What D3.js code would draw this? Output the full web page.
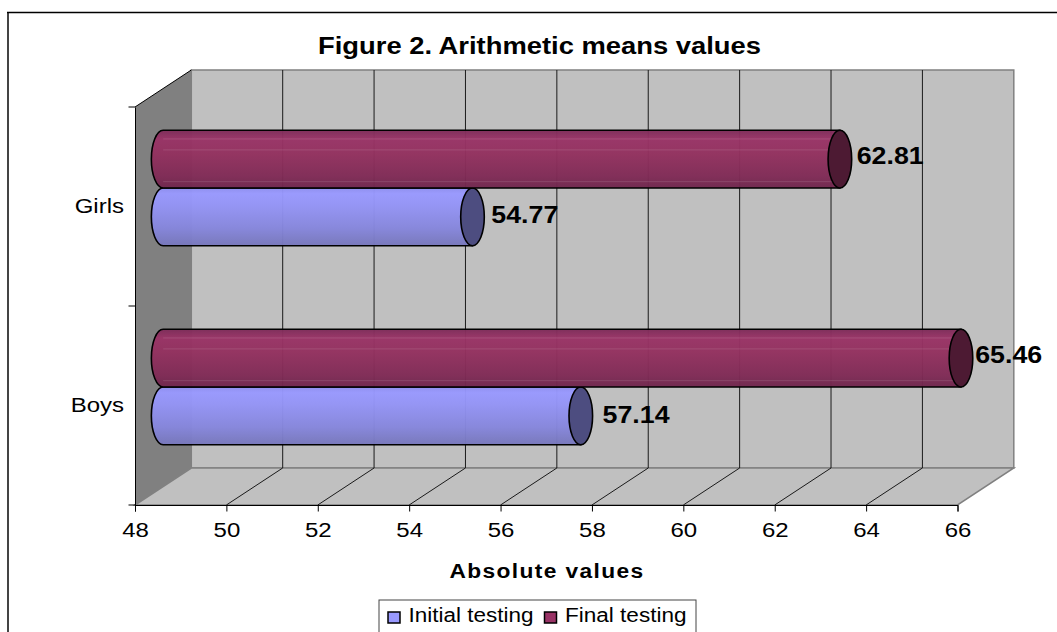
<!DOCTYPE html>
<html>
<head>
<meta charset="utf-8">
<script src="https://cdn.jsdelivr.net/npm/d3@7/dist/d3.min.js"></script>
<style>
  body { margin:0; background:#fff; }
  svg { display:block; }
  text { font-family:"Liberation Sans", Arial, sans-serif; fill:#000; }
  .axis path, .axis line { stroke:#000; }
</style>
</head>
<body>
<svg width="1057" height="632"></svg>
<script>
const categories = ['Girls', 'Boys'];
const seriesNames = ['Initial testing', 'Final testing'];
const initialValues = [54.77, 57.14];
const finalValues = [62.81, 65.46];
const xTicks = [48, 50, 52, 54, 56, 58, 60, 62, 64, 66];

const svg = d3.select('svg');

// front edge of the 3d box and how far back it goes
const plot = { left:135, right:957.5, top:107, bottom:505 };
const depth = { x:56.3, y:-37 };

const xScale = d3.scaleLinear()
    .domain([48, 66])
    .range([plot.left, plot.right]);
const yScale = d3.scaleBand()
    .domain(categories)
    .range([plot.top, plot.bottom])
    .paddingInner(0.42)
    .paddingOuter(0.21);
const seriesScale = d3.scaleBand()
    .domain([seriesNames[1], seriesNames[0]])
    .range([0, yScale.bandwidth()]);

// the text in the picture is pulled wider than the font
const stretch = (sel, k) => sel.each(function() {
    d3.select(this)
        .attr('lengthAdjust', 'spacingAndGlyphs')
        .attr('textLength', this.getComputedTextLength() * k);
});

// frame
svg.append('line').attr('x1', 8).attr('x2', 8).attr('y1', 12).attr('y2', 632)
    .attr('stroke', '#444').attr('stroke-width', 2);
svg.append('line').attr('x1', 7).attr('x2', 1057).attr('y1', 12.5).attr('y2', 12.5)
    .attr('stroke', '#000').attr('stroke-width', 1.5);

// title
svg.append('text').attr('x', 318).attr('y', 54)
    .attr('font-size', 23).attr('font-weight', 'bold')
    .attr('textLength', 443).attr('lengthAdjust', 'spacingAndGlyphs')
    .text('Figure 2. Arithmetic means values');

// gradients
const defs = svg.append('defs');
const addGradient = (id, stops) => {
    const g = defs.append('linearGradient').attr('id', id)
        .attr('x1', 0).attr('x2', 0).attr('y1', 0).attr('y2', 1);
    stops.forEach(s => g.append('stop').attr('offset', s[0]).attr('stop-color', s[1]));
};
addGradient('gradInitial', [[0, '#8f8ff0'], [0.1, '#9999ff'], [0.3, '#9494f6'], [0.7, '#8686dc'], [1, '#7777bb']]);
addGradient('gradFinal', [[0, '#7d2c59'], [0.15, '#993366'], [0.4, '#93315f'], [0.8, '#802b56'], [1, '#6f274d']]);

// back wall, side wall, floor
const box = svg.append('g');
box.append('rect')
    .attr('x', plot.left + depth.x).attr('y', plot.top + depth.y)
    .attr('width', plot.right - plot.left).attr('height', plot.bottom - plot.top)
    .attr('fill', '#c0c0c0').attr('stroke', '#808080').attr('stroke-width', 1.5);
box.append('path')
    .attr('d', d3.line()([
        [plot.left, plot.top], [plot.left + depth.x, plot.top + depth.y],
        [plot.left + depth.x, plot.bottom + depth.y], [plot.left, plot.bottom]
    ]) + 'Z')
    .attr('fill', '#808080');
box.append('path')
    .attr('d', d3.line()([
        [plot.left, plot.bottom], [plot.left + depth.x, plot.bottom + depth.y],
        [plot.right + depth.x, plot.bottom + depth.y], [plot.right, plot.bottom]
    ]) + 'Z')
    .attr('fill', '#c0c0c0').attr('stroke', '#808080').attr('stroke-width', 1.5);
box.append('line')
    .attr('x1', plot.left).attr('y1', plot.top)
    .attr('x2', plot.left + depth.x).attr('y2', plot.top + depth.y)
    .attr('stroke', '#000');

// grid lines, up the back wall and across the floor
const gridTicks = xTicks.slice(1, -1);
box.selectAll('.wallGrid').data(gridTicks).enter().append('line')
    .attr('x1', d => xScale(d) + depth.x).attr('x2', d => xScale(d) + depth.x)
    .attr('y1', plot.top + depth.y).attr('y2', plot.bottom + depth.y)
    .attr('stroke', '#1a1a1a').attr('stroke-width', 1);
box.selectAll('.floorGrid').data(gridTicks).enter().append('line')
    .attr('x1', d => xScale(d)).attr('x2', d => xScale(d) + depth.x)
    .attr('y1', plot.bottom).attr('y2', plot.bottom + depth.y)
    .attr('stroke', '#1a1a1a').attr('stroke-width', 1);

// axes
const xAxis = d3.axisBottom(xScale).tickValues(xTicks).tickSizeOuter(0).tickSize(6.5).tickPadding(11);
svg.append('g').attr('class', 'axis')
    .attr('transform', `translate(0,${plot.bottom})`)
    .call(xAxis)
    .selectAll('text')
    .attr('font-size', 20)
    .call(stretch, 1.2);

const yAxis = d3.axisLeft(yScale).tickSize(0).tickPadding(11);
svg.append('g').attr('class', 'axis')
    .attr('transform', `translate(${plot.left},0)`)
    .call(yAxis)
    .selectAll('text')
    .attr('font-size', 20)
    .call(stretch, 1.2);

// category ticks sit between the categories
const yTickPos = [plot.top, yScale.step() + plot.top, plot.bottom];
svg.selectAll('.yTick').data(yTickPos).enter().append('line')
    .attr('x1', plot.left - 6.5).attr('x2', plot.left)
    .attr('y1', d => d).attr('y2', d => d)
    .attr('stroke', '#000');

svg.append('text').attr('x', 449.5).attr('y', 578)
    .attr('font-size', 20).attr('font-weight', 'bold')
    .attr('letter-spacing', 1.2)
    .attr('textLength', 195).attr('lengthAdjust', 'spacingAndGlyphs')
    .text('Absolute values');

// bars
const rx = 11.8;
const rows = [];
categories.forEach((c, i) => {
    rows.push({ cat:c, series:seriesNames[0], value:initialValues[i], grad:'gradInitial', cap:'#4d4d80' });
    rows.push({ cat:c, series:seriesNames[1], value:finalValues[i], grad:'gradFinal', cap:'#4d1a33' });
});
// bars stand half way back in the box
const bx = v => xScale(v) + depth.x / 2;
const byTop = d => yScale(d.cat) + seriesScale(d.series) + depth.y / 2;
const ry = seriesScale.bandwidth() / 2;

const bars = svg.selectAll('.bar').data(rows).enter().append('g').attr('class', 'bar');
bars.append('path')
    .attr('d', d => {
        const x0 = bx(48), x1 = bx(d.value), y0 = byTop(d), y1 = y0 + ry * 2;
        return `M${x0},${y0}A${rx},${ry} 0 0 0 ${x0},${y1}L${x1},${y1}L${x1},${y0}Z`;
    })
    .attr('fill', d => `url(#${d.grad})`)
    .attr('fill-opacity', 0.97)
    .attr('stroke', '#000').attr('stroke-width', 1.6);
// thin light bands across the cylinders
const bandFractions = [0.15, 0.34, 0.89];
bars.filter(d => d.series === seriesNames[1]).selectAll('.band').data(d => bandFractions.map(f => ({ d, f })))
    .enter().append('line')
    .attr('x1', b => bx(48)).attr('x2', b => bx(b.d.value))
    .attr('y1', b => byTop(b.d) + b.f * ry * 2).attr('y2', b => byTop(b.d) + b.f * ry * 2)
    .attr('stroke', '#fff').attr('stroke-opacity', 0.12).attr('stroke-width', 1);
bars.append('ellipse')
    .attr('cx', d => bx(d.value))
    .attr('cy', d => byTop(d) + ry)
    .attr('rx', rx).attr('ry', ry)
    .attr('fill', d => d.cap)
    .attr('stroke', '#000').attr('stroke-width', 1.6);

// value labels, each one sits a bit differently in the picture
const labelNudge = { 'Girls|Final testing':[5, -4], 'Girls|Initial testing':[7, -2], 'Boys|Final testing':[2.4, -4], 'Boys|Initial testing':[10, -1] };
bars.append('text')
    .attr('x', d => bx(d.value) + rx + labelNudge[d.cat + '|' + d.series][0])
    .attr('y', d => byTop(d) + ry + labelNudge[d.cat + '|' + d.series][1])
    .attr('dy', '0.36em')
    .attr('font-size', 24).attr('font-weight', 'bold')
    .attr('textLength', 67).attr('lengthAdjust', 'spacingAndGlyphs')
    .text(d => d.value.toFixed(2));

// legend, runs off the bottom of the picture
const legend = svg.append('g');
legend.append('rect').attr('x', 379).attr('y', 600).attr('width', 317).attr('height', 60)
    .attr('fill', '#fff').attr('stroke', '#444').attr('stroke-width', 1);
const legendX = d3.scaleOrdinal().domain(seriesNames).range([388, 544.5]);
const legendColor = d3.scaleOrdinal().domain(seriesNames).range(['#9999ff', '#993366']);
const legendWidth = d3.scaleOrdinal().domain(seriesNames).range([125, 121.5]);
legend.selectAll('rect.swatch').data(seriesNames).enter().append('rect')
    .attr('class', 'swatch')
    .attr('x', d => legendX(d)).attr('y', 612)
    .attr('width', 12).attr('height', 11)
    .attr('fill', d => legendColor(d))
    .attr('stroke', '#000').attr('stroke-width', 1.5);
legend.selectAll('text').data(seriesNames).enter().append('text')
    .attr('x', d => legendX(d) + 20.5).attr('y', 622)
    .attr('font-size', 20)
    .attr('textLength', d => legendWidth(d)).attr('lengthAdjust', 'spacingAndGlyphs')
    .text(d => d);
</script>
</body>
</html>
